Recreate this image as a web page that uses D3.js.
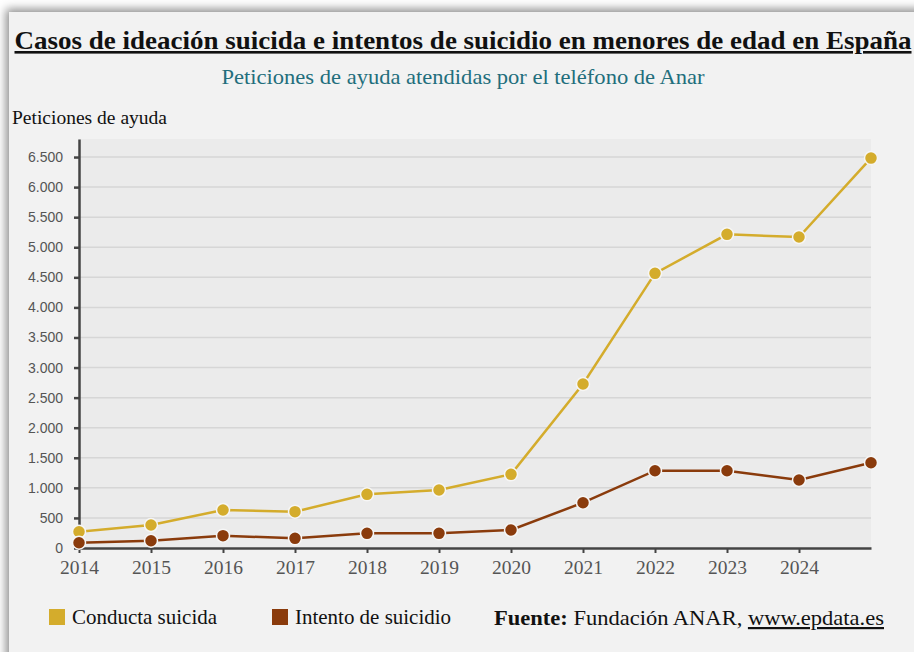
<!DOCTYPE html>
<html>
<head>
<meta charset="utf-8">
<script src="https://cdn.jsdelivr.net/npm/d3@7"></script>
<style>
  body { margin: 0; background: #ffffff; overflow: hidden; }
  .card { position: absolute; left: 9px; top: 12px; width: 940px; height: 680px;
          background: #f2f2f2; box-shadow: 0 0 9px 3px rgba(0,0,0,0.45); }
  #chart { position: absolute; left: 0; top: 0; }
</style>
</head>
<body>
<div class="card"></div>
<div id="chart"></div>
<script>
const years = [2014, 2015, 2016, 2017, 2018, 2019, 2020, 2021, 2022, 2023, 2024, 2025];
const tickYears = [2014, 2015, 2016, 2017, 2018, 2019, 2020, 2021, 2022, 2023, 2024];
const conducta = [271, 382, 632, 604, 892, 964, 1225, 2726, 4566, 5215, 5170, 6483];
const intento = [88, 121, 205, 161, 244, 244, 299, 753, 1285, 1285, 1130, 1418];
const yTicks = [0, 500, 1000, 1500, 2000, 2500, 3000, 3500, 4000, 4500, 5000, 5500, 6000, 6500];
const seriesNames = ['Conducta suicida', 'Intento de suicidio'];
const seriesColors = ['#d4ac2c', '#8a3b0c'];

const W = 914, H = 652;
const margin = { top: 139, right: 43, bottom: 104, left: 79 };
const width = W - margin.left - margin.right;
const height = H - margin.top - margin.bottom;

const root = d3.select('#chart')
    .append('svg')
    .attr('width', W)
    .attr('height', H);

const serif = "'Liberation Serif', 'Times New Roman', serif";
const sans = "'Liberation Sans', Arial, sans-serif";

// Titles (the original type is a bit condensed, so fix the widths)
root.append('text')
    .attr('x', 463).attr('y', 49)
    .attr('text-anchor', 'middle')
    .attr('font-family', serif).attr('font-weight', 'bold')
    .attr('font-size', 26)
    .attr('textLength', 897).attr('lengthAdjust', 'spacingAndGlyphs')
    .attr('fill', '#111')
    .attr('text-decoration', 'underline')
    .text('Casos de ideación suicida e intentos de suicidio en menores de edad en España');

root.append('text')
    .attr('x', 463).attr('y', 84)
    .attr('text-anchor', 'middle')
    .attr('font-family', serif).attr('font-size', 21)
    .attr('textLength', 483).attr('lengthAdjust', 'spacingAndGlyphs')
    .attr('fill', '#226e7c')
    .text('Peticiones de ayuda atendidas por el teléfono de Anar');

root.append('text')
    .attr('x', 12).attr('y', 124)
    .attr('font-family', serif).attr('font-size', 18)
    .attr('textLength', 155).attr('lengthAdjust', 'spacingAndGlyphs')
    .attr('fill', '#111')
    .text('Peticiones de ayuda');

const svg = root.append('g')
    .attr('transform', `translate(${margin.left},${margin.top})`);

const x = d3.scaleLinear()
    .domain([2014, 2025])
    .range([0, width]);

const y = d3.scaleLinear()
    .domain([0, 6800])
    .range([height, 0]);

// plot background
svg.append('rect')
    .attr('width', width).attr('height', height)
    .attr('fill', '#ebebeb');

// grid
svg.selectAll('.grid')
    .data(yTicks.filter(d => d > 0))
    .enter()
    .append('line')
    .attr('x1', 0).attr('x2', width)
    .attr('y1', d => y(d)).attr('y2', d => y(d))
    .attr('stroke', '#d6d6d6').attr('stroke-width', 1.5);

// y axis
const yAxis = svg.append('g')
    .call(d3.axisLeft(y).tickValues(yTicks).tickSize(5).tickSizeOuter(0).tickPadding(11)
        .tickFormat(d => d3.format(',')(d).replace(/,/g, '.')));
yAxis.select('.domain').attr('stroke', '#444').attr('stroke-width', 2.5);
yAxis.selectAll('.tick line').attr('stroke', '#444').attr('stroke-width', 2.5);
yAxis.selectAll('.tick text')
    .attr('font-family', sans).attr('font-size', 14).attr('fill', '#555');

// x axis
const xAxis = svg.append('g')
    .attr('transform', `translate(0,${height})`)
    .call(d3.axisBottom(x).tickValues(tickYears).tickSize(5).tickSizeOuter(0).tickPadding(8)
        .tickFormat(d3.format('d')));
xAxis.select('.domain').attr('stroke', '#444').attr('stroke-width', 2.5);
xAxis.selectAll('.tick line').attr('stroke', '#444').attr('stroke-width', 2);
xAxis.selectAll('.tick text')
    .attr('font-family', serif).attr('font-size', 19).attr('fill', '#555')
    .attr('textLength', 39).attr('lengthAdjust', 'spacingAndGlyphs');

// lines and points
const line = d3.line()
    .x((d, i) => x(years[i]))
    .y(d => y(d));

[conducta, intento].forEach((vals, k) => {
    svg.append('path')
        .datum(vals)
        .attr('fill', 'none')
        .attr('stroke', seriesColors[k])
        .attr('stroke-width', 2.5)
        .attr('d', line);

    svg.selectAll('.pt' + k)
        .data(vals)
        .enter()
        .append('circle')
        .attr('class', 'pt' + k)
        .attr('cx', (d, i) => x(years[i]))
        .attr('cy', d => y(d))
        .attr('r', 6.5)
        .attr('fill', seriesColors[k])
        .attr('stroke', '#f6f6f6')
        .attr('stroke-width', 1.5);
});

// legend
const legendX = [49, 272];
const legendW = [145, 156];
seriesNames.forEach((name, k) => {
    root.append('rect')
        .attr('x', legendX[k]).attr('y', 609)
        .attr('width', 16).attr('height', 16)
        .attr('fill', seriesColors[k]);
    root.append('text')
        .attr('x', legendX[k] + 23).attr('y', 624)
        .attr('font-family', serif).attr('font-size', 22)
        .attr('textLength', legendW[k]).attr('lengthAdjust', 'spacingAndGlyphs')
        .attr('fill', '#111')
        .text(name);
});

const src = root.append('text')
    .attr('x', 494).attr('y', 625)
    .attr('font-family', serif).attr('font-size', 22)
    .attr('textLength', 390).attr('lengthAdjust', 'spacingAndGlyphs')
    .attr('fill', '#111');
src.append('tspan').attr('font-weight', 'bold').text('Fuente:');
src.append('tspan').text(' Fundación ANAR, ');
src.append('tspan').attr('text-decoration', 'underline').text('www.epdata.es');
</script>
</body>
</html>
